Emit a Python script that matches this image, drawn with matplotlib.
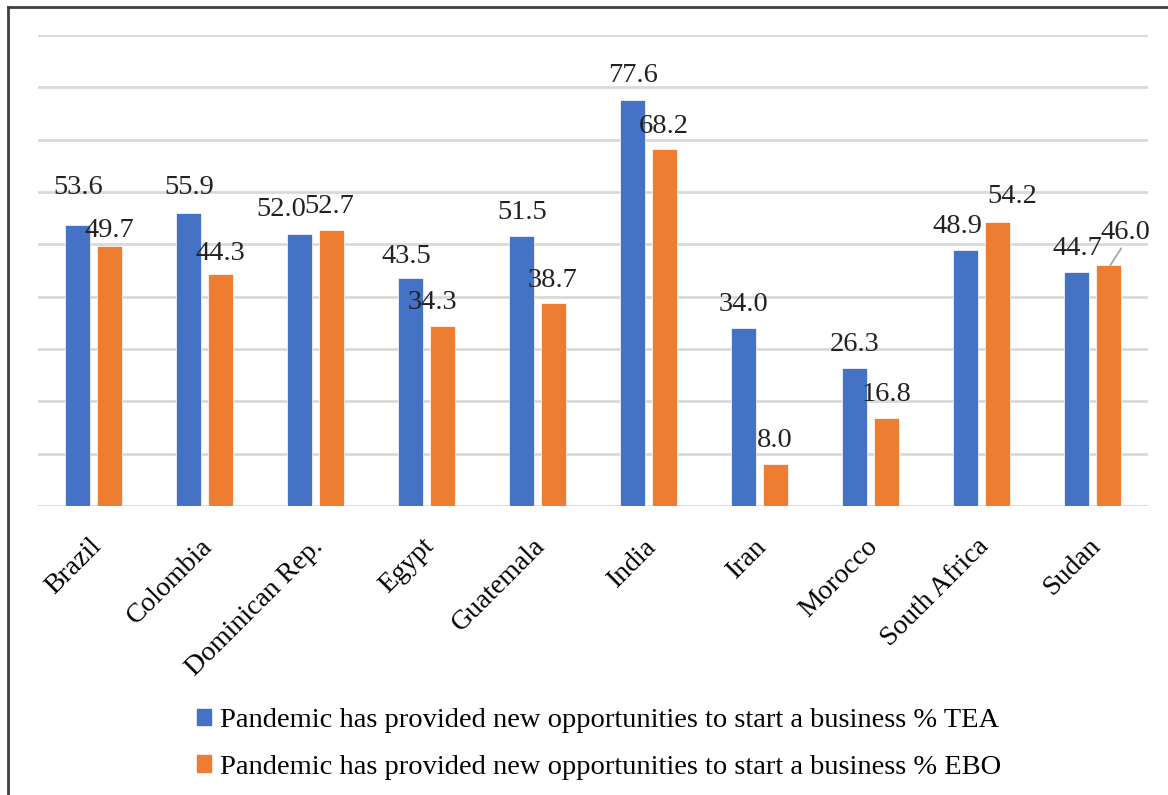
import matplotlib.pyplot as plt
import matplotlib.transforms as mtransforms
from matplotlib.patches import Patch
from matplotlib.lines import Line2D
import numpy as np

plt.rcParams['font.family'] = ['Liberation Serif', 'DejaVu Serif']

countries = ["Brazil", "Colombia", "Dominican Rep.", "Egypt", "Guatemala",
             "India", "Iran", "Morocco", "South Africa", "Sudan"]
tea = [53.6, 55.9, 52.0, 43.5, 51.5, 77.6, 34.0, 26.3, 48.9, 44.7]
ebo = [49.7, 44.3, 52.7, 34.3, 38.7, 68.2, 8.0, 16.8, 54.2, 46.0]
labels = ["Pandemic has provided new opportunities to start a business % TEA",
          "Pandemic has provided new opportunities to start a business % EBO"]

blue = "#4472C4"
orange = "#ED7D31"

# label nudges in pixels (dx, dy) where excel moved them
tea_nudge = [(0, 12), (0, 0), (-19, -2), (-5, -4), (0, -2), (0, -2), (0, -2), (0, -2), (-9, -2), (0, -2)]
ebo_nudge = [(0, -11), (0, -5), (-2, -2), (-10, -2), (0, -3), (0, -3), (0, -2), (0, -2), (15, 0), (17, 7)]

fig = plt.figure(figsize=(11.68, 7.95), dpi=100)
ax = fig.add_axes([38/1168, 1-506/795, 1110/1168, 471/795])

x = np.arange(len(countries))
w = 0.225
off = 0.14
ax.bar(x - off, tea, w, color=blue, edgecolor="white", linewidth=0.5, zorder=3)
ax.bar(x + off, ebo, w, color=orange, edgecolor="white", linewidth=0.5, zorder=3)

ax.set_ylim(0, 90)
ax.set_xlim(-0.5, len(countries) - 0.5)
ax.set_yticks(np.arange(0, 91, 10))
ax.yaxis.grid(True, color="#d9d9d9", linewidth=2)
ax.set_axisbelow(True)
for s in ax.spines.values():
    s.set_visible(False)
ax.tick_params(axis="y", left=False, labelleft=False)
ax.tick_params(axis="x", length=0, pad=20)
ax.set_xticks(x)
ax.set_xticklabels(countries, rotation=45, ha="right", rotation_mode="anchor", fontsize=20)
shift = mtransforms.ScaledTranslation(-5/100, 0, fig.dpi_scale_trans)
for lab in ax.get_xticklabels():
    lab.set_transform(lab.get_transform() + shift)

fs = 20.5
for i in range(len(countries)):
    dx, dy = tea_nudge[i]
    ax.annotate(f"{tea[i]:.1f}", (x[i] - off, tea[i]), xytext=(dx, 26 + dy),
                textcoords="offset pixels", ha="center", va="center", fontsize=fs, color="#222222")
    dx, dy = ebo_nudge[i]
    ax.annotate(f"{ebo[i]:.1f}", (x[i] + off, ebo[i]), xytext=(dx, 26 + dy),
                textcoords="offset pixels", ha="center", va="center", fontsize=fs, color="#222222")

# leader line for Sudan EBO label
ax.annotate("", (x[-1] + off + 0.02, ebo[-1]), xytext=(11, 17), textcoords="offset pixels",
            arrowprops=dict(arrowstyle="-", color="#a6a6a6", lw=1.3, shrinkA=0, shrinkB=0))

handles = [Patch(color=blue), Patch(color=orange)]
fig.legend(handles, labels, loc="center", bbox_to_anchor=(599/1168, 1-744/795), frameon=False,
           fontsize=20.5, handlelength=0.5, handleheight=0.5, handletextpad=0.3, labelspacing=0.75)

# outer frame (left and top visible)
fig.add_artist(Line2D([8/1168, 8/1168], [0, 1-7/795], color="#404040", lw=2, transform=fig.transFigure))
fig.add_artist(Line2D([8/1168, 1], [1-7/795, 1-7/795], color="#404040", lw=2, transform=fig.transFigure))

fig.savefig("out.png", dpi=100)
